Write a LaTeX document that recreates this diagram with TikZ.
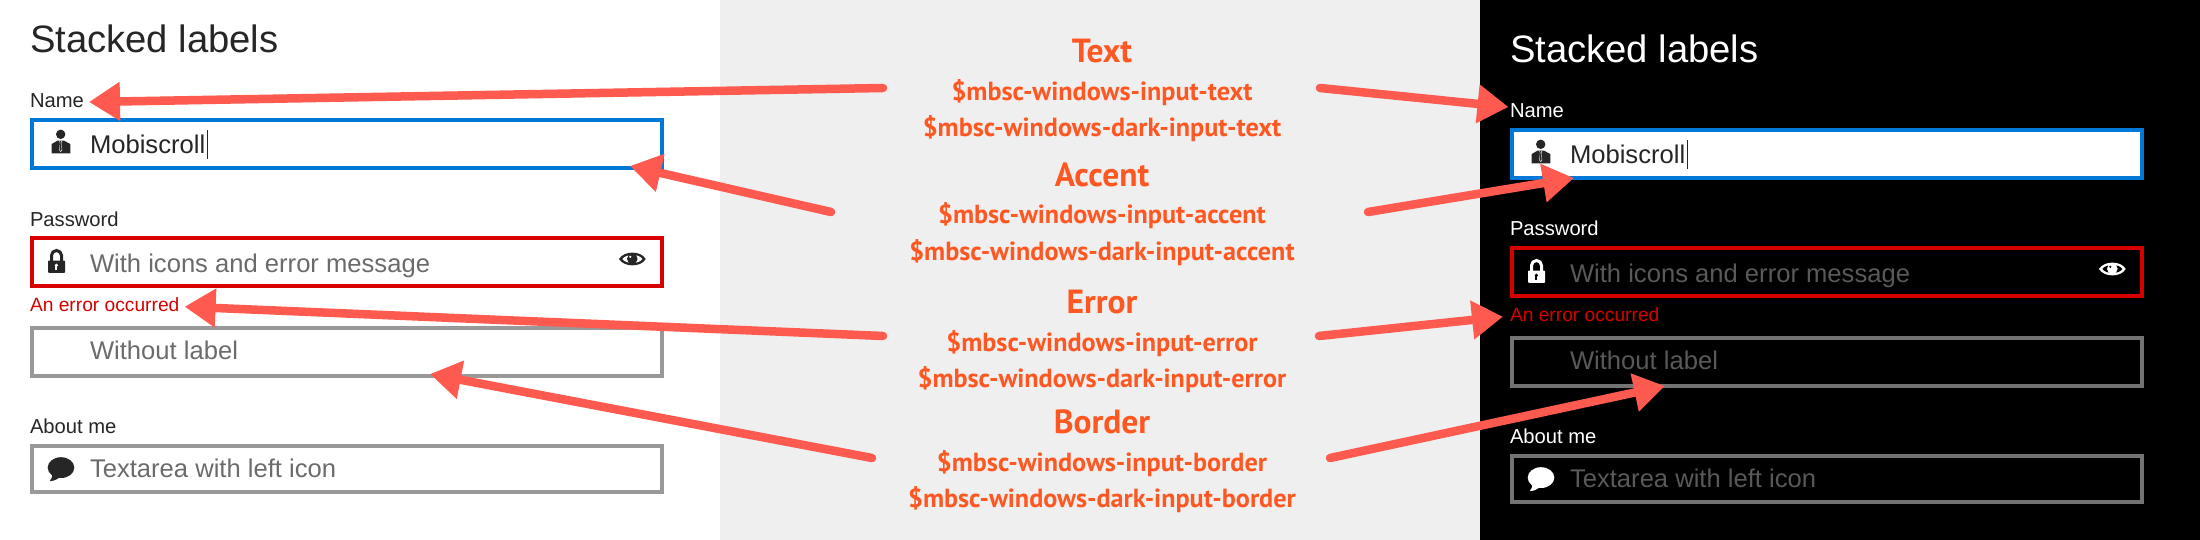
\documentclass[tikz,border=0pt]{standalone}
\usepackage{fontspec}
\setmainfont{Liberation Sans}
\newfontfamily\midfont{PT Sans}[BoldFont={PT Sans Bold}]
\usetikzlibrary{arrows.meta}
\definecolor{arrowred}{HTML}{FF5A4F}
\definecolor{midorange}{HTML}{FF5722}
\definecolor{midgray}{HTML}{EFEFEF}
\definecolor{accentblue}{HTML}{0078D7}
\definecolor{errred}{HTML}{D70000}
\tikzset{
  x=1pt,y=-1pt,
  txt/.style={anchor=base west,inner sep=0pt,outer sep=0pt},
  heading/.style={txt,font=\fontsize{38.2}{38}\selectfont},
  flabel/.style={txt,font=\fontsize{20.2}{20}\selectfont},
  errlabel/.style={txt,font=\fontsize{19.2}{19}\selectfont,text=errred},
  field/.style={txt,font=\fontsize{25.6}{25}\selectfont},
  inputbox/.style={draw,line width=4pt,anchor=north west,inner sep=0pt,outer sep=0pt,minimum width=630pt},
  midtitle/.style={anchor=base,inner sep=0pt,text=midorange,font=\midfont\bfseries\fontsize{33.5}{33}\selectfont},
  midsub/.style={anchor=base,inner sep=0pt,text=midorange,font=\midfont\bfseries\fontsize{26.2}{26}\selectfont},
  callout/.style={draw=arrowred,line width=8.5pt,line cap=round,-{Triangle[length=31pt,width=37pt]}},
}
\newcommand{\ManIcon}{%
  \fill[pfg] (60.7,134.3) circle (4.7);
  \fill[pfg] (51.7,153.3) -- (51.7,144) -- (57.5,140.7) -- (64,140.7) -- (70.3,144) -- (70.3,153.3) -- cycle;
  \fill[pbgi] (59.2,140.7) -- (62.2,140.7) -- (61.4,143) -- (62.2,150) -- (60.7,152) -- (59.2,150) -- (60,143) -- cycle;
  \fill[pfg] (60.1,141) -- (61.3,141) -- (61.1,143) -- (61.7,149.5) -- (60.7,151) -- (59.7,149.5) -- (60.3,143) -- cycle;
}
\newcommand{\LockIcon}{%
  \draw[pfg,line width=3pt] (51.5,262) -- (51.5,255.5) arc[start angle=180,end angle=0,x radius=5,y radius=-5] -- (61.5,262);
  \fill[pfg,rounded corners=0.8pt] (48,260.5) rectangle (65,272.8);
  \fill[pbgi] (56.4,265.3) circle (1.8);
  \fill[pbgi] (55.4,265.5) rectangle (57.4,270);
}
\newcommand{\EyeIcon}{%
  \fill[pfg] (619,259) .. controls (624,250.5) and (641,250.5) .. (645.7,259) .. controls (641,267.5) and (624,267.5) .. (619,259) -- cycle;
  \fill[pbgi] (622.4,259) .. controls (626,253.7) and (639,253.7) .. (642.4,259) .. controls (639,264.3) and (626,264.3) .. (622.4,259) -- cycle;
  \fill[pfg] (632.3,258.8) circle (5.3);
  \fill[pbgi] (630.3,256.8) circle (1.2);
}
\newcommand{\BubbleIcon}{%
  \fill[pfg] (61,467.6) ellipse[x radius=13.3,y radius=10.4];
  \fill[pfg] (52,473) .. controls (52.5,477) and (51.8,479) .. (49.8,481) .. controls (54,481) and (57,479.5) .. (60,477) -- cycle;
}
% #1 prefix of node names
\newcommand{\FormPanel}[1]{%
  \node[heading,text=pfg] (#1head) at (30,52.5) {Stacked labels};
  \node[flabel,text=pfg] (#1name) at (30,107.7) {Name};
  \node[inputbox,draw=accentblue,fill=pnamebg,minimum height=48pt] (#1namebox) at (32,120) {};
  \ManIcon
  \node[field,text=ptxt] (#1nameval) at (90,153.3) {Mobiscroll};
  \fill[ptxt] (206.5,130) rectangle (207.6,159.5);
  \node[flabel,text=pfg] (#1pass) at (30,226) {Password};
  \node[inputbox,draw=errred,minimum height=47.5pt] (#1passbox) at (32,238) {};
  \LockIcon
  \node[field,text=pph] (#1passval) at (90,272) {With icons and error message};
  \EyeIcon
  \node[errlabel] (#1err) at (30,311.7) {An error occurred};
  \node[inputbox,draw=pborder,minimum height=47.5pt] (#1nolabel) at (32,328) {};
  \node[field,text=pph] (#1nolabelval) at (90,359.6) {Without label};
  \node[flabel,text=pfg] (#1about) at (30,433.3) {About me};
  \node[inputbox,draw=pborder,minimum height=46pt] (#1aboutbox) at (32,446) {};
  \BubbleIcon
  \node[field,text=pph] (#1aboutval) at (90,477.6) {Textarea with left icon};
}
\begin{document}
\begin{tikzpicture}
\useasboundingbox (0,0) rectangle (2200,540);
\fill[white] (0,0) rectangle (720,540);
\fill[midgray] (720,0) rectangle (1480,540);
\fill[black] (1480,0) rectangle (2200,540);
% light panel
\begin{scope}
  \colorlet{pfg}{black!85}\colorlet{pbgi}{white}\colorlet{ptxt}{black!85}
  \colorlet{pph}{black!58}\colorlet{pborder}{black!40}\colorlet{pnamebg}{white}
  \FormPanel{l}
\end{scope}
% dark panel
\begin{scope}[shift={(1480,10)}]
  \colorlet{pfg}{white}\colorlet{pbgi}{black}\colorlet{ptxt}{black!85}
  \colorlet{pph}{black!65!white}\colorlet{pborder}{black!55!white}\colorlet{pnamebg}{white}
  \FormPanel{r}
\end{scope}
% man icon on the white field of the dark panel
\begin{scope}[shift={(1480,10)}]
  \colorlet{pfg}{black!85}\colorlet{pbgi}{white}
  \ManIcon
\end{scope}
% centre texts
\node[midtitle] (ttext) at (1102,63) {Text};
\node[midsub] (stext) at (1102,101) {\$mbsc-windows-input-text};
\node[midsub] (sdtext) at (1102,137) {\$mbsc-windows-dark-input-text};
\node[midtitle] (taccent) at (1102,187) {Accent};
\node[midsub] (saccent) at (1102,224) {\$mbsc-windows-input-accent};
\node[midsub] (sdaccent) at (1102,260) {\$mbsc-windows-dark-input-accent};
\node[midtitle] (terror) at (1102,313) {Error};
\node[midsub] (serror) at (1102,351) {\$mbsc-windows-input-error};
\node[midsub] (sderror) at (1102,387) {\$mbsc-windows-dark-input-error};
\node[midtitle] (tborder) at (1102,433) {Border};
\node[midsub] (sborder) at (1102,471) {\$mbsc-windows-input-border};
\node[midsub] (sdborder) at (1102,507) {\$mbsc-windows-dark-input-border};
% connector ends
\coordinate (txtL) at (883,88);   \coordinate (txtLtip) at (89,102);
\coordinate (txtR) at (1320,88);  \coordinate (txtRtip) at (1508.5,107);
\coordinate (accL) at (831,212);  \coordinate (accLtip) at (630,166);
\coordinate (accR) at (1368,212); \coordinate (accRtip) at (1574,178);
\coordinate (errL) at (883,336);  \coordinate (errLtip) at (184.6,306.7);
\coordinate (errR) at (1319,336); \coordinate (errRtip) at (1503,316.7);
\coordinate (borL) at (872,458);  \coordinate (borLtip) at (430,374);
\coordinate (borR) at (1330,458); \coordinate (borRtip) at (1665,386);
\foreach \a/\b in {txtL/txtLtip,txtR/txtRtip,accL/accLtip,accR/accRtip,errL/errLtip,errR/errRtip,borL/borLtip,borR/borRtip}
  \draw[callout] (\a) -- (\b);
\end{tikzpicture}
\end{document}
